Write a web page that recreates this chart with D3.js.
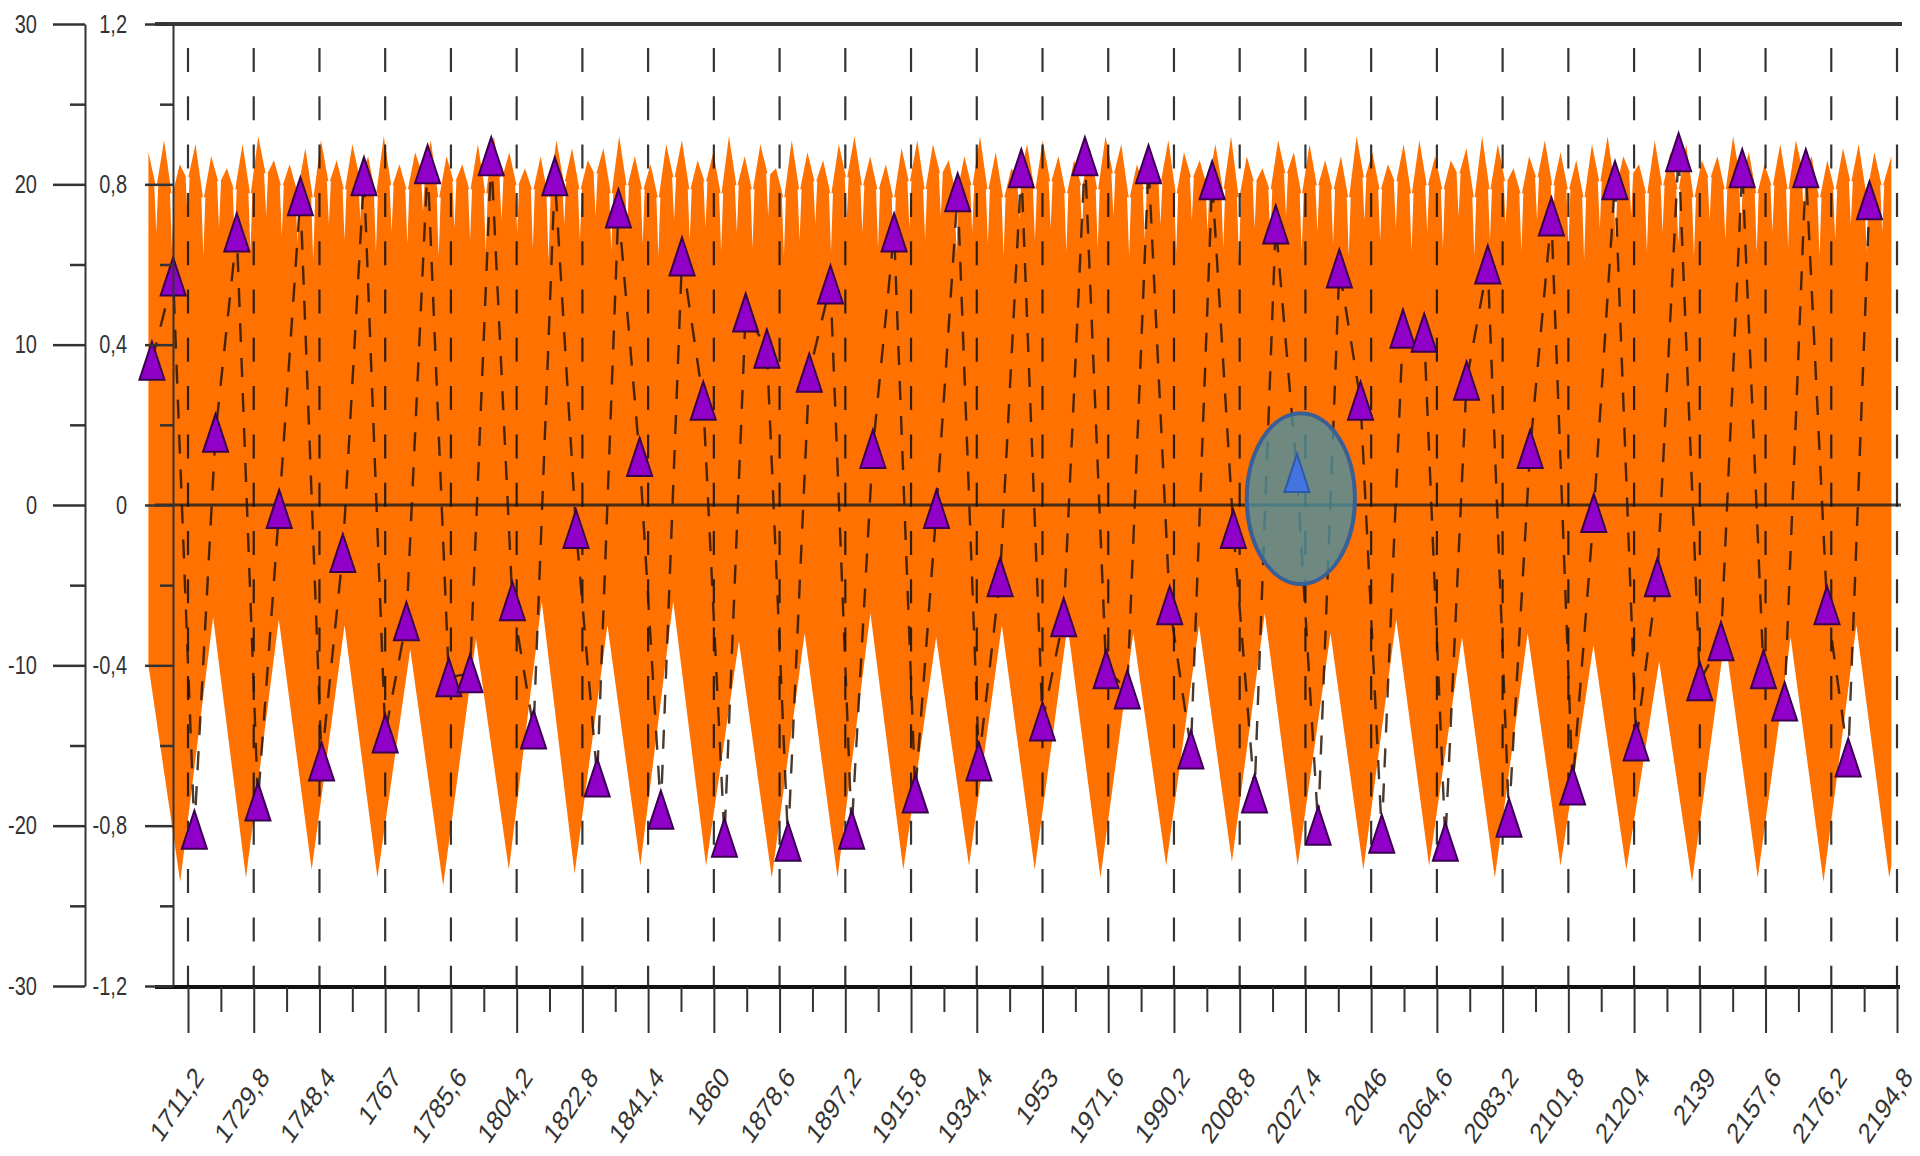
<!DOCTYPE html>
<html>
<head>
<meta charset="utf-8">
<script src="https://cdn.jsdelivr.net/npm/d3@7"></script>
<style>
  html, body { margin: 0; background: #fff; }
  svg { display: block; font-family: "Liberation Sans", Arial, sans-serif; }
</style>
</head>
<body>
<svg id="chart" width="1920" height="1156"></svg>
<script>
// ---- x axis (years) ----
const tickYears = [1711.2, 1729.8, 1748.4, 1767, 1785.6, 1804.2, 1822.8, 1841.4, 1860, 1878.6,
  1897.2, 1915.8, 1934.4, 1953, 1971.6, 1990.2, 2008.8, 2027.4, 2046, 2064.6,
  2083.2, 2101.8, 2120.4, 2139, 2157.6, 2176.2, 2194.8];

// ---- y axes ----
const innerMajor = [1.2, 0.8, 0.4, 0, -0.4, -0.8, -1.2];
const innerMinor = [1.0, 0.6, 0.2, -0.2, -0.6, -1.0];
const outerMajor = [30, 20, 10, 0, -10, -20, -30];
const outerMinor = [25, 15, 5, -5, -15, -25];

// ---- sampled series (triangles joined by a dashed line) ----
const sampleYears = [1701, 1707, 1713, 1719, 1725, 1731, 1737, 1743, 1749, 1755,
  1761, 1767, 1773, 1779, 1785, 1791, 1797, 1803, 1809, 1815,
  1821, 1827, 1833, 1839, 1845, 1851, 1857, 1863, 1869, 1875,
  1881, 1887, 1893, 1899, 1905, 1911, 1917, 1923, 1929, 1935,
  1941, 1947, 1953, 1959, 1965, 1971, 1977, 1983, 1989, 1995,
  2001, 2007, 2013, 2019, 2025, 2031, 2037, 2043, 2049, 2055,
  2061, 2067, 2073, 2079, 2085, 2091, 2097, 2103, 2109, 2115,
  2121, 2127, 2133, 2139, 2145, 2151, 2157, 2163, 2169, 2175,
  2181, 2187];
const sampleValues = [0.36, 0.57, -0.81, 0.18, 0.68, -0.74, -0.01, 0.77, -0.64, -0.12,
  0.82, -0.57, -0.29, 0.85, -0.43, -0.42, 0.87, -0.24, -0.56, 0.82,
  -0.06, -0.68, 0.74, 0.12, -0.76, 0.62, 0.26, -0.83, 0.48, 0.39,
  -0.84, 0.33, 0.55, -0.81, 0.14, 0.68, -0.72, -0.01, 0.78, -0.64,
  -0.18, 0.84, -0.54, -0.28, 0.87, -0.41, -0.46, 0.85, -0.25, -0.61,
  0.81, -0.06, -0.72, 0.70, 0.08, -0.80, 0.59, 0.26, -0.82, 0.44,
  0.43, -0.84, 0.31, 0.60, -0.78, 0.14, 0.72, -0.70, -0.02, 0.81,
  -0.59, -0.18, 0.88, -0.44, -0.34, 0.84, -0.41, -0.49, 0.84, -0.25,
  -0.63, 0.76];
const highlightYear = 2025;
const highlightRing = { year: 2026.1, value: 0.016, halfYears: 15.3, halfValue: 0.213 };

// ---- dense signal: crest spikes, saddles between them, and thin slits below the saddles ----
const crestStart = 1700.0;
const crestStep = 4.44;
const crestPeaks = [0.88, 0.91, 0.85, 0.90, 0.87, 0.84, 0.90, 0.92, 0.86, 0.85,
  0.89, 0.91, 0.86, 0.90, 0.87, 0.92, 0.85, 0.88, 0.91, 0.87,
  0.85, 0.90, 0.92, 0.88, 0.84, 0.87, 0.91, 0.89, 0.86, 0.89,
  0.92, 0.87, 0.85, 0.90, 0.91, 0.86, 0.88, 0.92, 0.87, 0.90,
  0.84, 0.91, 0.88, 0.86, 0.90, 0.92, 0.87, 0.85, 0.89, 0.91,
  0.90, 0.86, 0.87, 0.92, 0.88, 0.84, 0.90, 0.91, 0.87, 0.86,
  0.89, 0.92, 0.90, 0.85, 0.87, 0.91, 0.88, 0.86, 0.90, 0.92,
  0.87, 0.84, 0.91, 0.88, 0.90, 0.86, 0.87, 0.92, 0.88, 0.85,
  0.90, 0.91, 0.87, 0.86, 0.89, 0.92, 0.90, 0.84, 0.87, 0.91,
  0.88, 0.86, 0.90, 0.92, 0.87, 0.85, 0.91, 0.88, 0.90, 0.86,
  0.87, 0.92, 0.88, 0.85, 0.90, 0.91, 0.87, 0.86, 0.89, 0.90, 0.88];
const crestSaddles = [0.79, 0.77, 0.81, 0.76, 0.80, 0.78, 0.77, 0.82, 0.79, 0.78,
  0.76, 0.80, 0.78, 0.81, 0.77, 0.79, 0.78, 0.82, 0.76, 0.80,
  0.78, 0.77, 0.81, 0.79, 0.78, 0.76, 0.80, 0.78, 0.82, 0.77,
  0.79, 0.78, 0.76, 0.81, 0.78, 0.80, 0.77, 0.79, 0.78, 0.82,
  0.76, 0.78, 0.80, 0.77, 0.81, 0.79, 0.78, 0.76, 0.80, 0.78,
  0.82, 0.77, 0.79, 0.78, 0.76, 0.81, 0.78, 0.80, 0.77, 0.79,
  0.78, 0.82, 0.76, 0.78, 0.80, 0.77, 0.81, 0.79, 0.78, 0.76,
  0.80, 0.78, 0.82, 0.77, 0.79, 0.78, 0.76, 0.81, 0.78, 0.80,
  0.77, 0.79, 0.78, 0.82, 0.76, 0.78, 0.80, 0.77, 0.81, 0.79,
  0.78, 0.76, 0.80, 0.78, 0.82, 0.77, 0.79, 0.78, 0.76, 0.81,
  0.78, 0.80, 0.77, 0.79, 0.78, 0.82, 0.76, 0.78, 0.80, 0.77, 0.79];
const crestSlits = [0.68, 0.64, 0.71, 0.62, 0.69, 0.66, 0.63, 0.72, 0.67, 0.65,
  0.61, 0.70, 0.66, 0.71, 0.63, 0.68, 0.65, 0.73, 0.62, 0.69,
  0.66, 0.63, 0.71, 0.68, 0.64, 0.61, 0.70, 0.66, 0.72, 0.63,
  0.68, 0.65, 0.62, 0.71, 0.66, 0.69, 0.63, 0.68, 0.64, 0.72,
  0.62, 0.66, 0.70, 0.63, 0.71, 0.68, 0.64, 0.61, 0.69, 0.66,
  0.72, 0.63, 0.68, 0.65, 0.62, 0.71, 0.66, 0.69, 0.63, 0.68,
  0.64, 0.72, 0.62, 0.66, 0.70, 0.63, 0.71, 0.68, 0.64, 0.61,
  0.69, 0.66, 0.72, 0.63, 0.68, 0.65, 0.62, 0.71, 0.66, 0.69,
  0.63, 0.68, 0.64, 0.72, 0.62, 0.66, 0.70, 0.63, 0.71, 0.68,
  0.64, 0.61, 0.69, 0.66, 0.72, 0.63, 0.68, 0.65, 0.62, 0.71,
  0.66, 0.69, 0.63, 0.68, 0.64, 0.72, 0.62, 0.66, 0.70, 0.63, 0.68];

// ---- dense signal: lower envelope (troughs and arches) ----
const floorYears = [1700.0, 1709.0, 1718.3, 1727.6, 1736.9, 1746.2, 1755.5, 1764.8, 1774.1, 1783.4,
  1792.7, 1802.0, 1811.3, 1820.6, 1829.9, 1839.2, 1848.5, 1857.8, 1867.1, 1876.4,
  1885.7, 1895.0, 1904.3, 1913.6, 1922.9, 1932.2, 1941.5, 1950.8, 1960.1, 1969.4,
  1978.7, 1988.0, 1997.3, 2006.6, 2015.9, 2025.2, 2034.5, 2043.8, 2053.1, 2062.4,
  2071.7, 2081.0, 2090.3, 2099.6, 2108.9, 2118.2, 2127.5, 2136.8, 2146.1, 2155.4,
  2164.7, 2174.0, 2183.3, 2192.6, 2193.2];
const floorValues = [-0.40, -0.94, -0.28, -0.93, -0.285, -0.91, -0.30, -0.93, -0.36, -0.95,
  -0.335, -0.91, -0.24, -0.92, -0.30, -0.90, -0.24, -0.90, -0.34, -0.93,
  -0.32, -0.93, -0.27, -0.91, -0.33, -0.90, -0.30, -0.91, -0.30, -0.93,
  -0.32, -0.90, -0.30, -0.89, -0.27, -0.90, -0.32, -0.91, -0.285, -0.90,
  -0.33, -0.93, -0.32, -0.90, -0.35, -0.91, -0.39, -0.94, -0.33, -0.93,
  -0.33, -0.94, -0.30, -0.93, -0.90];
const crestEnd = 0.87;

// ---- scales ----
const x = d3.scaleLinear().domain([1711.2, 2194.8]).range([188, 1897]);
const y = d3.scaleLinear().domain([-1.2, 1.2]).range([986, 24]);
const yOuter = d3.scaleLinear().domain([-30, 30]).range([986, 24]);

const locale = d3.formatLocale({ decimal: ",", thousands: "\u00a0", grouping: [3], currency: ["", ""], minus: "-" });
const fmt = locale.format(".1~f");
const fmtInt = locale.format("d");

const svg = d3.select("#chart");
const ink = "#333";

// ---- dense orange signal: body between crest line and lower envelope ----
const upperPts = crestPeaks.flatMap((p, i) => [
  [crestStart + i * crestStep, p],
  [crestStart + (i + 0.5) * crestStep, crestSaddles[i]]
]);
upperPts.push([floorYears[floorYears.length - 1], crestEnd]);
const lowerPts = floorYears.map((yr, i) => [yr, floorValues[i]]).reverse();
const outline = d3.line().x(d => x(d[0])).y(d => y(d[1]));
svg.append("path")
  .attr("d", outline(upperPts.concat(lowerPts)) + "Z")
  .attr("fill", "#ff7100");

// thin white slits hanging below each saddle
const slits = crestSlits.map((v, i) => ({
  year: crestStart + (i + 0.5) * crestStep, saddle: crestSaddles[i], value: v
}));
svg.append("g").selectAll("path").data(slits).join("path")
  .attr("d", d => {
    const cx = x(d.year), ys = y(d.saddle) - 3, yd = y(d.value);
    return `M${cx - 2},${ys}L${cx},${yd}L${cx + 2},${ys}Z`;
  })
  .attr("fill", "#fff");

// ---- zero line ----
svg.append("line")
  .attr("x1", 155).attr("x2", 1901)
  .attr("y1", y(0)).attr("y2", y(0))
  .attr("stroke", "#1a1a1a").attr("stroke-opacity", 0.8).attr("stroke-width", 3);

// ---- vertical dashed grid at the year ticks ----
svg.append("g").selectAll("line").data(tickYears).join("line")
  .attr("x1", d => x(d)).attr("x2", d => x(d))
  .attr("y1", 48).attr("y2", y(-1.2))
  .attr("stroke", "#111").attr("stroke-opacity", 0.85)
  .attr("stroke-width", 2.2).attr("stroke-dasharray", "24,24.3");

// ---- dashed connector through the samples ----
const samples = sampleYears.map((yr, i) => ({ year: yr, value: sampleValues[i] }));
svg.append("path")
  .datum(samples)
  .attr("d", d3.line().x(d => x(d.year)).y(d => y(d.value)))
  .attr("fill", "none")
  .attr("stroke", "#2a1608").attr("stroke-opacity", 0.85)
  .attr("stroke-width", 2.4).attr("stroke-dasharray", "19,16");

// ---- triangle markers ----
const tri = "M0,-19L12.5,19L-12.5,19Z";
svg.append("g").selectAll("path").data(samples.filter(d => d.year !== highlightYear)).join("path")
  .attr("d", tri)
  .attr("transform", d => `translate(${x(d.year)},${y(d.value)})`)
  .attr("fill", "#9000c8").attr("stroke", "#3a0050").attr("stroke-width", 2);

// ---- highlighted sample ----
svg.append("ellipse")
  .attr("cx", x(highlightRing.year)).attr("cy", y(highlightRing.value))
  .attr("rx", x(highlightRing.year + highlightRing.halfYears) - x(highlightRing.year))
  .attr("ry", y(highlightRing.value - highlightRing.halfValue) - y(highlightRing.value))
  .attr("fill", "rgb(75,144,160)").attr("fill-opacity", 0.8)
  .attr("stroke", "#3a5f96").attr("stroke-width", 4);
const hi = samples.find(d => d.year === highlightYear);
svg.append("path")
  .attr("d", tri)
  .attr("transform", `translate(${x(hi.year)},${y(hi.value)})`)
  .attr("fill", "#4474e0").attr("stroke", "#2d5aa8").attr("stroke-width", 2);

// ---- frame lines ----
svg.append("line").attr("x1", 155).attr("x2", 1902).attr("y1", 24).attr("y2", 24)
  .attr("stroke", "#3a3a3a").attr("stroke-width", 4);
svg.append("line").attr("x1", 155).attr("x2", 1900).attr("y1", y(-1.2) + 1).attr("y2", y(-1.2) + 1)
  .attr("stroke", "#111").attr("stroke-width", 4);

// ---- bottom axis ticks ----
const minorYears = d3.pairs(tickYears).map(([a, b]) => (a + b) / 2);
const axisY = y(-1.2) + 1;
svg.append("g").attr("transform", `translate(0,${axisY})`)
  .call(d3.axisBottom(x).tickValues(tickYears).tickSize(46).tickSizeOuter(0).tickFormat(""))
  .call(g => g.select(".domain").remove())
  .call(g => g.selectAll("line").attr("stroke", ink).attr("stroke-width", 2));
svg.append("g").attr("transform", `translate(0,${axisY})`)
  .call(d3.axisBottom(x).tickValues(minorYears).tickSize(25).tickSizeOuter(0).tickFormat(""))
  .call(g => g.select(".domain").remove())
  .call(g => g.selectAll("line").attr("stroke", ink).attr("stroke-width", 2));

// slanted year labels (tall, narrow lettering)
svg.append("g").selectAll("text").data(tickYears).join("text")
  .attr("transform", d => `translate(${x(d) + 17},1078) scale(1,1.25) rotate(-50)`)
  .attr("text-anchor", "end")
  .attr("font-size", 23)
  .attr("fill", ink)
  .text(d => fmt(d));

// ---- left axes ----
const tallText = g => g.selectAll("text")
  .attr("font-size", 20).attr("fill", ink)
  .attr("font-family", "Liberation Sans, Arial, sans-serif")
  .attr("transform", "scale(1,1.27)");

// outer axis (-30..30)
svg.append("g").attr("transform", "translate(85,0)")
  .call(d3.axisLeft(yOuter).tickValues(outerMajor).tickSize(32).tickSizeOuter(0).tickPadding(16).tickFormat(fmtInt))
  .call(g => g.select(".domain").attr("stroke", ink).attr("stroke-width", 2))
  .call(g => g.selectAll("line").attr("stroke", ink).attr("stroke-width", 2.5))
  .call(tallText);
svg.append("g").attr("transform", "translate(85,0)")
  .call(d3.axisLeft(yOuter).tickValues(outerMinor).tickSize(15).tickSizeOuter(0).tickFormat(""))
  .call(g => g.select(".domain").remove())
  .call(g => g.selectAll("line").attr("stroke", ink).attr("stroke-width", 2.5));

// inner axis (-1,2..1,2)
svg.append("g").attr("transform", "translate(173,0)")
  .call(d3.axisLeft(y).tickValues(innerMajor).tickSize(28).tickSizeOuter(0).tickPadding(18).tickFormat(fmt))
  .call(g => g.select(".domain").attr("stroke", ink).attr("stroke-width", 2))
  .call(g => g.selectAll("line").attr("stroke", ink).attr("stroke-width", 2.5))
  .call(tallText);
svg.append("g").attr("transform", "translate(173,0)")
  .call(d3.axisLeft(y).tickValues(innerMinor).tickSize(13).tickSizeOuter(0).tickFormat(""))
  .call(g => g.select(".domain").remove())
  .call(g => g.selectAll("line").attr("stroke", ink).attr("stroke-width", 2.5));
</script>
</body>
</html>
